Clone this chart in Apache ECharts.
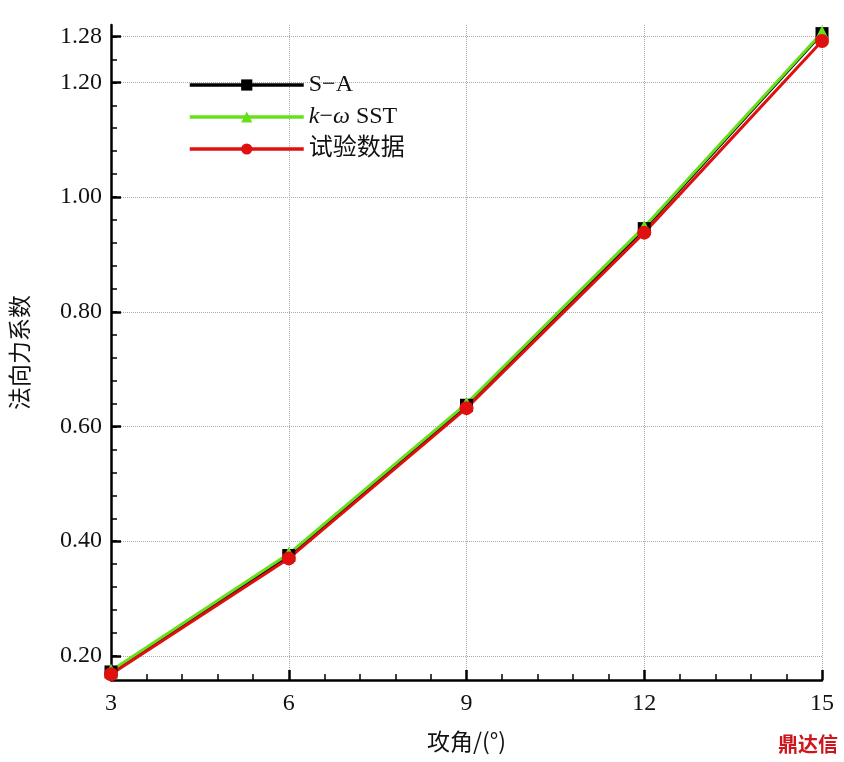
<!DOCTYPE html>
<html><head><meta charset="utf-8">
<script src="https://cdn.jsdelivr.net/npm/echarts@6/dist/echarts.min.js"></script>
<style>html,body{margin:0;padding:0;background:#fff}#c{width:844px;height:762px}</style>
</head><body><div id="c"></div>
<script>
const angles = [3, 6, 9, 12, 15];
const saValues = [0.172, 0.375, 0.637, 0.945, 1.285];
const sstValues = [0.174, 0.378, 0.640, 0.948, 1.287];
const testValues = [0.168, 0.370, 0.632, 0.938, 1.272];
const yTickLabels = [0.2, 0.4, 0.6, 0.8, 1.0, 1.2, 1.28];
const yMinorTicks = [0.2,0.24,0.28,0.32,0.36,0.4,0.44,0.48,0.52,0.56,0.6,0.64,0.68,0.72,0.76,0.8,0.84,0.88,0.92,0.96,1.0,1.04,1.08,1.12,1.16,1.2,1.24,1.28];
const xMinorTicks = [];
for (let a = 3; a < 15; a += 3) for (let k = 1; k < 5; k++) xMinorTicks.push(+(a + 0.6 * k).toFixed(2));

const serif = 'Liberation Serif';
const cjk = 'Noto Sans CJK SC';
const pair = arr => angles.map((a, i) => [a, arr[i]]);
const chart = echarts.init(document.getElementById('c'));
const yBase = {type:'value', min:0.158, max:1.30, position:'left'};
const xBase = {type:'value', min:3, max:15, position:'bottom'};
chart.setOption({
  animation:false,
  grid:{left:106, right:22, top:25, bottom:82},
  legend:{orient:'vertical', left:183, top:68, itemWidth:114, itemHeight:14, itemGap:8,
    lineStyle:{width:3.5},
    data:['S\u2212A', 'k\u2212\u03c9 SST', '试验数据'],
    formatter: n => n==='k\u2212\u03c9 SST' ? '{i|k}\u2212{i|\u03c9} SST' : n,
    textStyle:{fontFamily:serif+','+cjk, fontSize:24, color:'#111', lineHeight:22, rich:{i:{fontStyle:'italic', fontFamily:serif, fontSize:24, lineHeight:22}}}
  },
  xAxis:[
    Object.assign({}, xBase, {interval:3,
      axisLine:{lineStyle:{color:'#000', width:2.5}},
      axisTick:{inside:true, length:10, lineStyle:{color:'#000', width:2.5}},
      axisLabel:{fontFamily:serif, fontSize:24, color:'#111', margin:12},
      splitLine:{show:true, lineStyle:{type:'dotted', color:'#aaa'}},
      name:'攻角/(°)', nameLocation:'middle', nameGap:50,
      nameTextStyle:{fontFamily:cjk, fontSize:23, color:'#111'}}),
    Object.assign({}, xBase, {
      axisLine:{show:false}, axisLabel:{show:false}, splitLine:{show:false},
      axisTick:{inside:true, length:6, customValues:xMinorTicks, lineStyle:{color:'#000', width:1.5}}})
  ],
  yAxis:[
    Object.assign({}, yBase, {
      axisLine:{show:true, lineStyle:{color:'#000', width:2.5}},
      axisTick:{inside:true, length:10, customValues:yTickLabels, lineStyle:{color:'#000', width:2.5}},
      axisLabel:{customValues:yTickLabels, formatter:v=>v.toFixed(2), fontFamily:serif, fontSize:24, color:'#111', margin:9},
      splitLine:{show:true, lineStyle:{type:'dotted', color:'#aaa'}},
      name:'法向力系数', nameLocation:'middle', nameGap:80, nameRotate:90,
      nameTextStyle:{fontFamily:cjk, fontSize:23, color:'#111'}}),
    Object.assign({}, yBase, {
      axisLine:{show:false}, axisLabel:{show:false}, splitLine:{show:false},
      axisTick:{show:true, inside:true, length:6, customValues:yMinorTicks, lineStyle:{color:'#000', width:1.5}}})
  ],
  series:[
    {name:'S\u2212A', type:'line', data:pair(saValues), symbol:'rect', symbolSize:13,
     lineStyle:{color:'#000', width:3}, itemStyle:{color:'#000'}},
    {name:'k\u2212\u03c9 SST', type:'line', data:pair(sstValues), symbol:'triangle', symbolSize:14,
     lineStyle:{color:'#66e01a', width:3}, itemStyle:{color:'#66e01a'}},
    {name:'试验数据', type:'line', data:pair(testValues), symbol:'circle', symbolSize:14,
     lineStyle:{color:'#e01010', width:3}, itemStyle:{color:'#e01010'}}
  ],
  graphic:[{type:'text', right:6, bottom:8, style:{text:'鼎达信', font:'bold 20px "Noto Sans CJK SC"', fill:'#d0141c'}}]
});
</script></body></html>
